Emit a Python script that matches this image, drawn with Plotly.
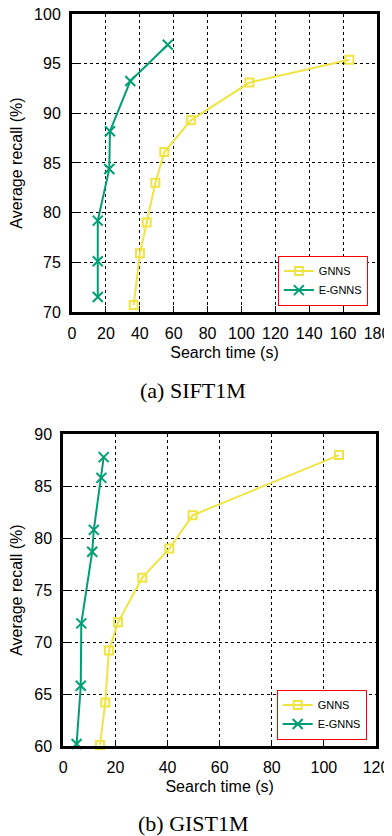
import plotly.graph_objects as go

# (a) SIFT1M
sift_gnns_time = [36.4, 40.1, 44.1, 49.2, 54.5, 70.1, 104.7, 163.7]
sift_gnns_recall = [70.7, 75.9, 79.0, 83.0, 86.1, 89.3, 93.1, 95.4]
sift_egnns_time = [15.2, 15.2, 15.2, 22.0, 22.4, 34.4, 56.5]
sift_egnns_recall = [71.5, 75.1, 79.2, 84.4, 88.2, 93.25, 96.9]

# (b) GIST1M
gist_gnns_time = [14.1, 16.1, 17.5, 21.0, 30.3, 40.7, 49.6, 105.8]
gist_gnns_recall = [60.1, 64.2, 69.2, 71.9, 76.2, 79.0, 82.2, 88.0]
gist_egnns_time = [5.1, 6.7, 6.9, 11.1, 11.7, 14.6, 15.5]
gist_egnns_recall = [60.2, 65.8, 71.8, 78.7, 80.8, 85.8, 87.8]

sift_xticks = list(range(0, 181, 20))
sift_yticks = list(range(70, 101, 5))
gist_xticks = list(range(0, 121, 20))
gist_yticks = list(range(60, 91, 5))

YELLOW = '#F0E442'
GREEN = '#009E73'
FONT = 'Liberation Sans'


def add_series(fig, xs, ys, name, color, symbol, size, xa, ya, legend):
    fig.add_trace(go.Scatter(x=xs, y=ys, name=name, mode='lines+markers',
                             line=dict(color=color, width=2),
                             marker=dict(symbol=symbol, size=size, color=color,
                                         line=dict(color=color, width=2)),
                             xaxis=xa, yaxis=ya, legend=legend, cliponaxis=False))


fig = go.Figure()
add_series(fig, sift_gnns_time, sift_gnns_recall, 'GNNS', YELLOW, 'square-open', 8, 'x', 'y', 'legend')
add_series(fig, sift_egnns_time, sift_egnns_recall, 'E-GNNS', GREEN, 'x-thin-open', 10, 'x', 'y', 'legend')
add_series(fig, gist_gnns_time, gist_gnns_recall, 'GNNS', YELLOW, 'square-open', 8, 'x2', 'y2', 'legend2')
add_series(fig, gist_egnns_time, gist_egnns_recall, 'E-GNNS', GREEN, 'x-thin-open', 10, 'x2', 'y2', 'legend2')

axis_style = dict(showline=True, linecolor='black', linewidth=3, mirror=True,
                  showgrid=True, gridcolor='black', gridwidth=1, griddash='dot',
                  zeroline=False, ticks='inside', ticklen=6, tickwidth=1, tickcolor='black',
                  ticklabelstandoff=5, automargin=False, ticklabeloverflow='allow',
                  tickfont=dict(family=FONT, size=16, color='black'))
title_font = dict(family=FONT, size=16, color='black')

legend_style = dict(bordercolor='red', borderwidth=1, bgcolor='white',
                    font=dict(family=FONT, size=11, color='black'),
                    xanchor='right', yanchor='bottom', tracegroupgap=0,
                    itemwidth=30)

caption_font = dict(family='Liberation Serif', size=22, color='black')

# the page body adds an 8px offset, so the layout is shifted up/left by that amount
fig.update_layout(
    width=392, height=836,
    margin=dict(l=0, r=0, t=0, b=0, autoexpand=False),
    paper_bgcolor='white', plot_bgcolor='white',
    xaxis=dict(axis_style, domain=[0.1633, 0.9413], range=[0, 180], tickvals=sift_xticks,
               title=dict(text='Search time (s)', font=title_font, standoff=6), anchor='y'),
    yaxis=dict(axis_style, domain=[0.6364, 0.9928], range=[70, 100], tickvals=sift_yticks,
               title=dict(text='Average recall (%)', font=title_font), anchor='x'),
    xaxis2=dict(axis_style, domain=[0.1411, 0.9388], range=[0, 120], tickvals=gist_xticks,
                title=dict(text='Search time (s)', font=title_font, standoff=6), anchor='y2'),
    yaxis2=dict(axis_style, domain=[0.1172, 0.4901], range=[60, 90], tickvals=gist_yticks,
                title=dict(text='Average recall (%)', font=title_font), anchor='x2'),
    legend=dict(legend_style, x=0.918, y=0.644),
    legend2=dict(legend_style, x=0.915, y=0.125),
    annotations=[
        dict(text='(a) SIFT1M', x=0.472, y=0.543, xref='paper', yref='paper',
             xanchor='center', yanchor='middle', showarrow=False, font=caption_font),
        dict(text='(b) GIST1M', x=0.472, y=0.024, xref='paper', yref='paper',
             xanchor='center', yanchor='middle', showarrow=False, font=caption_font),
    ],
)

fig.write_html('out.html')
